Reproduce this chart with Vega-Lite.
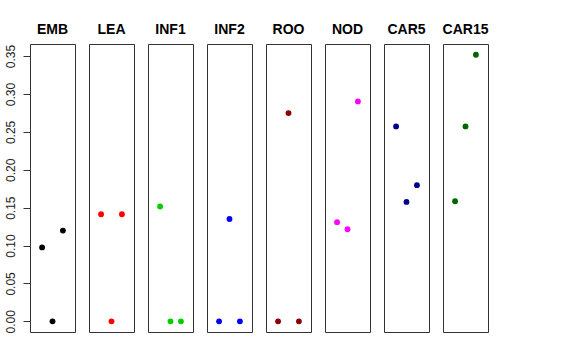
{
  "$schema": "https://vega.github.io/schema/vega-lite/v6.json",
  "padding": {"left": 3, "top": 23, "right": 5, "bottom": 5},
  "background": "white",
  "bounds": "flush",
  "data": {"values": [
    {"tissue": "EMB", "x": 1, "y": 0.0975},
    {"tissue": "EMB", "x": 2, "y": 0.0},
    {"tissue": "EMB", "x": 3, "y": 0.1198},
    {"tissue": "LEA", "x": 1, "y": 0.1413},
    {"tissue": "LEA", "x": 2, "y": 0.0},
    {"tissue": "LEA", "x": 3, "y": 0.1413},
    {"tissue": "INF1", "x": 1, "y": 0.1515},
    {"tissue": "INF1", "x": 2, "y": 0.0},
    {"tissue": "INF1", "x": 3, "y": 0.0},
    {"tissue": "INF2", "x": 1, "y": 0.0},
    {"tissue": "INF2", "x": 2, "y": 0.135},
    {"tissue": "INF2", "x": 3, "y": 0.0},
    {"tissue": "ROO", "x": 1, "y": 0.0},
    {"tissue": "ROO", "x": 2, "y": 0.2748},
    {"tissue": "ROO", "x": 3, "y": 0.0},
    {"tissue": "NOD", "x": 1, "y": 0.1308},
    {"tissue": "NOD", "x": 2, "y": 0.1215},
    {"tissue": "NOD", "x": 3, "y": 0.2902},
    {"tissue": "CAR5", "x": 1, "y": 0.2572},
    {"tissue": "CAR5", "x": 2, "y": 0.1576},
    {"tissue": "CAR5", "x": 3, "y": 0.1797},
    {"tissue": "CAR15", "x": 1, "y": 0.1585},
    {"tissue": "CAR15", "x": 2, "y": 0.2572},
    {"tissue": "CAR15", "x": 3, "y": 0.3518}
  ]},
  "facet": {
    "column": {
      "field": "tissue",
      "type": "nominal",
      "sort": ["EMB", "LEA", "INF1", "INF2", "ROO", "NOD", "CAR5", "CAR15"],
      "title": null,
      "header": {"labelFontWeight": "bold", "labelFontSize": 14, "labelFont": "Liberation Sans", "labelColor": "black", "labelPadding": 7}
    }
  },
  "spacing": 14,
  "spec": {
    "width": 45,
    "height": 288,
    "view": {"stroke": "#333333", "strokeWidth": 1},
    "mark": {"type": "point", "filled": true, "shape": "circle", "size": 34, "opacity": 1},
    "encoding": {
      "x": {"field": "x", "type": "quantitative", "scale": {"domain": [-0.16, 4.16], "nice": false, "zero": false}, "axis": null},
      "y": {"field": "y", "type": "quantitative",
        "scale": {"domain": [-0.0141, 0.366], "nice": false, "zero": false},
        "axis": {"title": null, "values": [0, 0.05, 0.1, 0.15, 0.2, 0.25, 0.3, 0.35], "format": ".2f",
          "grid": false, "domain": false, "tickSize": 7, "tickColor": "#333333", "labelAngle": 270,
          "labelAlign": "center", "labelBaseline": "bottom", "labelPadding": 6,
          "labelFont": "Liberation Sans", "labelFontSize": 12, "labelColor": "#222222"}},
      "color": {"field": "tissue", "type": "nominal", "legend": null,
        "scale": {"domain": ["EMB", "LEA", "INF1", "INF2", "ROO", "NOD", "CAR5", "CAR15"],
          "range": ["#000000", "#FF0000", "#00CD00", "#0000FF", "#8B0000", "#FF00FF", "#00008B", "#006400"]}}
    }
  }
}
